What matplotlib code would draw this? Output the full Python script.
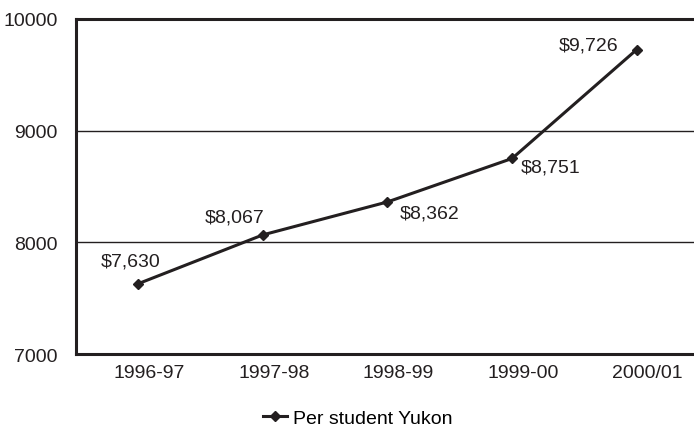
import matplotlib.pyplot as plt
from matplotlib.transforms import ScaledTranslation

plt.rcParams['font.family'] = ['Liberation Sans', 'DejaVu Sans']

years = ["1996-97", "1997-98", "1998-99", "1999-00", "2000/01"]
per_student = [7630, 8067, 8362, 8751, 9726]
labels = ["$7,630", "$8,067", "$8,362", "$8,751", "$9,726"]
# label offsets in pixels from each point
offsets = [(-8, 23), (-28, 18), (42, -11), (39, -9), (-48, 5)]

fig = plt.figure(figsize=(6.94, 4.31), dpi=100)
ax = fig.add_axes([0.1095, 0.1763, 0.8905, 0.7773])

xs = list(range(len(years)))
ax.plot(xs, per_student, color='#231f20', linewidth=2.2, marker='D',
        markersize=5.5, label='Per student Yukon')

for x, y, lab, off in zip(xs, per_student, labels, offsets):
    ax.annotate(lab, (x, y), xytext=off, textcoords='offset pixels',
                ha='center', va='center', fontsize=14, color='#231f20')

ax.set_xlim(-0.5, 4.46)
ax.set_ylim(7000, 10000)
ax.set_yticks([7000, 8000, 9000, 10000])
ax.set_xticks(xs)
ax.set_xticklabels(years)
ax.tick_params(axis='both', length=0, labelsize=14, colors='#231f20')
ax.tick_params(axis='y', pad=13)
ax.tick_params(axis='x', pad=7)

# category labels sit a bit right of the points
shift = ScaledTranslation(11 / 100, 0, fig.dpi_scale_trans)
for lbl in ax.get_xticklabels():
    lbl.set_transform(lbl.get_transform() + shift)

for y in [8000, 9000]:
    ax.axhline(y, color='#231f20', linewidth=1.0)

ax.spines['right'].set_visible(False)
for side in ['left', 'top', 'bottom']:
    ax.spines[side].set_linewidth(2.2)
    ax.spines[side].set_color('#231f20')

fig.legend(loc='center left', bbox_to_anchor=(263 / 694, 1 - 419 / 431),
           frameon=False, fontsize=14, handlelength=1.24, handletextpad=0.31,
           borderpad=0, borderaxespad=0)

fig.savefig('out.png', dpi=100)
